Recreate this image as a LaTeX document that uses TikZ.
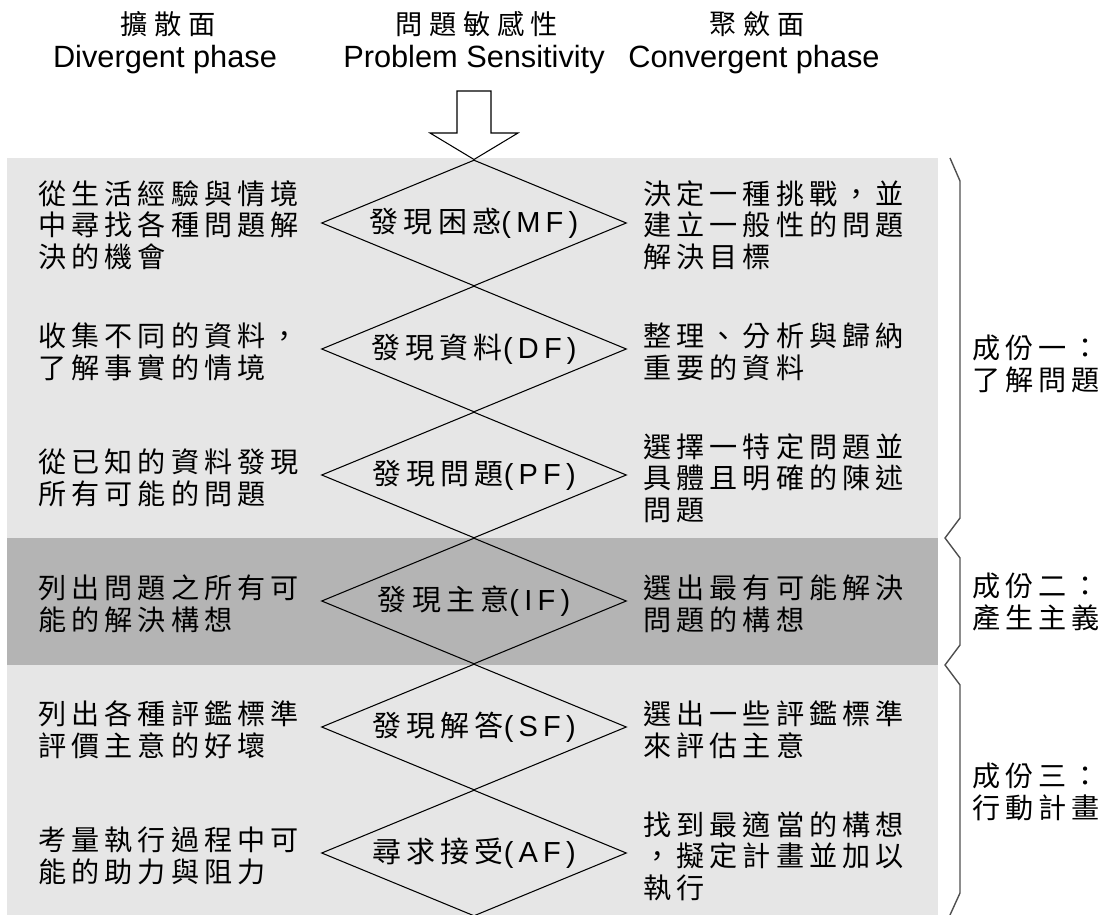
\documentclass[tikz,border=0pt]{standalone}
\usepackage{fontspec}
\setmainfont{Liberation Sans}
\newfontfamily\cjk[LetterSpace=18]{Noto Sans CJK TC}
\newfontfamily\cjkhead[LetterSpace=24]{Noto Sans CJK TC}
\newfontfamily\latsp[LetterSpace=18]{Liberation Sans}
\usetikzlibrary{shapes.geometric}
\definecolor{bandlight}{HTML}{E6E6E6}
\definecolor{banddark}{HTML}{B4B4B4}
\definecolor{bracegrey}{HTML}{505050}

\begin{document}
\begin{tikzpicture}[x=0.02cm, y=-0.02cm,
  headzh/.style={inner sep=0pt, font=\cjkhead\fontsize{15.5}{17}\selectfont},
  headen/.style={inner sep=0pt, font=\fontsize{17.5}{20}\selectfont},
  phase/.style={draw, line width=0.6pt, shape=diamond, aspect=2.42, inner sep=0pt,
                minimum width=6.1cm, minimum height=2.52cm, font=\latsp\fontsize{16.5}{18}\selectfont},
  note/.style={anchor=west, align=left, inner sep=0pt, font=\cjk\fontsize{16}{18}\selectfont},
  brace/.style={draw=bracegrey, line width=0.8pt}
]
\useasboundingbox (0,0) rectangle (1115,915);

% background bands
\fill[bandlight] (7,158) rectangle (938,915);
\fill[banddark] (7,538) rectangle (938,665);

% column headers
\node[headzh] (zhdiv) at (168,24) {擴散面};
\node[headen] (endiv) at (165,60) {Divergent phase};
\node[headzh] (zhsens) at (477,24) {問題敏感性};
\node[headen] (ensens) at (474,60) {Problem Sensitivity};
\node[headzh] (zhconv) at (757,24) {聚斂面};
\node[headen] (enconv) at (754,60) {Convergent phase};

% the six phases
\node[phase] (mf) at (474,223) {{\cjk 發現困惑}(MF)};
\node[phase] (df) at (474,349) {{\cjk 發現資料}(DF)};
\node[phase] (pf) at (474,475) {{\cjk 發現問題}(PF)};
\node[phase] (if) at (474,601) {{\cjk 發現主意}(IF)};
\node[phase] (sf) at (474,727) {{\cjk 發現解答}(SF)};
\node[phase] (af) at (474,853) {{\cjk 尋求接受}(AF)};

% hollow arrow into the first phase
\draw[line width=0.6pt, fill=white] (457,91) -- (491,91) -- (491,133) -- (518,133)
  -- (mf.north) -- (430,133) -- (457,133) -- cycle;

% divergent side
\node[note] (mfdiv) at (38,225) {從生活經驗與情境\\中尋找各種問題解\\決的機會};
\node[note] (dfdiv) at (38,352) {收集不同的資料，\\了解事實的情境};
\node[note] (pfdiv) at (38,478) {從已知的資料發現\\所有可能的問題};
\node[note] (ifdiv) at (38,604) {列出問題之所有可\\能的解決構想};
\node[note] (sfdiv) at (38,730) {列出各種評鑑標準\\評價主意的好壞};
\node[note] (afdiv) at (38,856) {考量執行過程中可\\能的助力與阻力};

% convergent side
\node[note] (mfconv) at (643,225) {決定一種挑戰，並\\建立一般性的問題\\解決目標};
\node[note] (dfconv) at (643,352) {整理、分析與歸納\\重要的資料};
\node[note] (pfconv) at (643,478) {選擇一特定問題並\\具體且明確的陳述\\問題};
\node[note] (ifconv) at (643,604) {選出最有可能解決\\問題的構想};
\node[note] (sfconv) at (643,730) {選出一些評鑑標準\\來評估主意};
\node[note] (afconv) at (643,856) {找到最適當的構想\\，擬定計畫並加以\\執行};

% components
\draw[brace] (950,158) -- (960,181) -- (960,518) -- (945,538) -- (960,558) -- (960,645)
  -- (945,665) -- (960,685) -- (960,893) -- (950,915);
\node[note] (part1) at (972,364) {成份一：\\了解問題};
\node[note] (part2) at (972,602) {成份二：\\產生主義};
\node[note] (part3) at (972,792) {成份三：\\行動計畫};
\end{tikzpicture}
\end{document}
